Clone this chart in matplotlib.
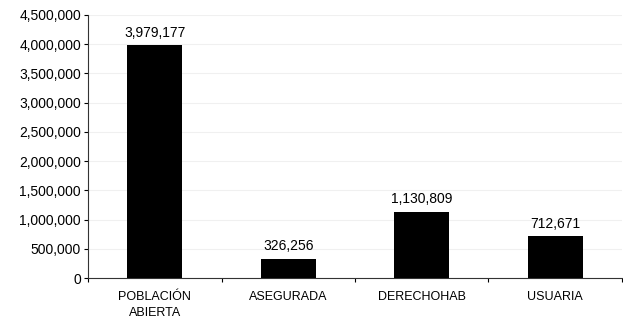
import matplotlib
matplotlib.use("Agg")
import matplotlib.pyplot as plt
from matplotlib.ticker import FuncFormatter, FixedLocator, NullFormatter

categorias = ["POBLACIÓN\nABIERTA", "ASEGURADA", "DERECHOHAB", "USUARIA"]
valores = [3979177, 326256, 1130809, 712671]
y_ticks = [0, 500000, 1000000, 1500000, 2000000, 2500000, 3000000, 3500000, 4000000, 4500000]

plt.rcParams['font.family'] = ['Liberation Sans', 'DejaVu Sans']

fig = plt.figure(figsize=(6.23, 3.26), dpi=100)
ax = fig.add_axes([0.1413, 0.147, 0.857, 0.807])

x = list(range(len(categorias)))
bars = ax.bar(x, valores, width=0.41, color='black', zorder=3)

ax.set_xlim(-0.5, len(categorias) - 0.5)
ax.set_ylim(0, 4500000)
ax.set_yticks(y_ticks)
ax.yaxis.set_major_formatter(FuncFormatter(lambda v, p: f"{int(v):,}"))

# category ticks at boundaries, labels in the middle
ax.xaxis.set_major_locator(FixedLocator([i + 0.5 for i in range(-1, len(categorias))]))
ax.xaxis.set_major_formatter(NullFormatter())
ax.xaxis.set_minor_locator(FixedLocator(x))
ax.set_xticklabels(categorias, minor=True)
ax.tick_params(axis='x', which='minor', length=0, pad=9, labelsize=9)
ax.tick_params(axis='x', which='major', length=3, direction='out')
ax.tick_params(axis='y', length=3, direction='out', labelsize=10, pad=2)

for lbl in ax.get_xticklabels(minor=True):
    lbl.set_linespacing(1.5)

ax.grid(axis='y', color='#f0f0f0', linewidth=0.8, zorder=0)

for spine in ['top', 'right']:
    ax.spines[spine].set_visible(False)
ax.spines['left'].set_color('#333333')
ax.spines['bottom'].set_color('#333333')

for b, v in zip(bars, valores):
    ax.text(b.get_x() + b.get_width() / 2, v + 100000, f"{v:,}",
            ha='center', va='bottom', fontsize=10)

fig.savefig("out.png", dpi=100)
